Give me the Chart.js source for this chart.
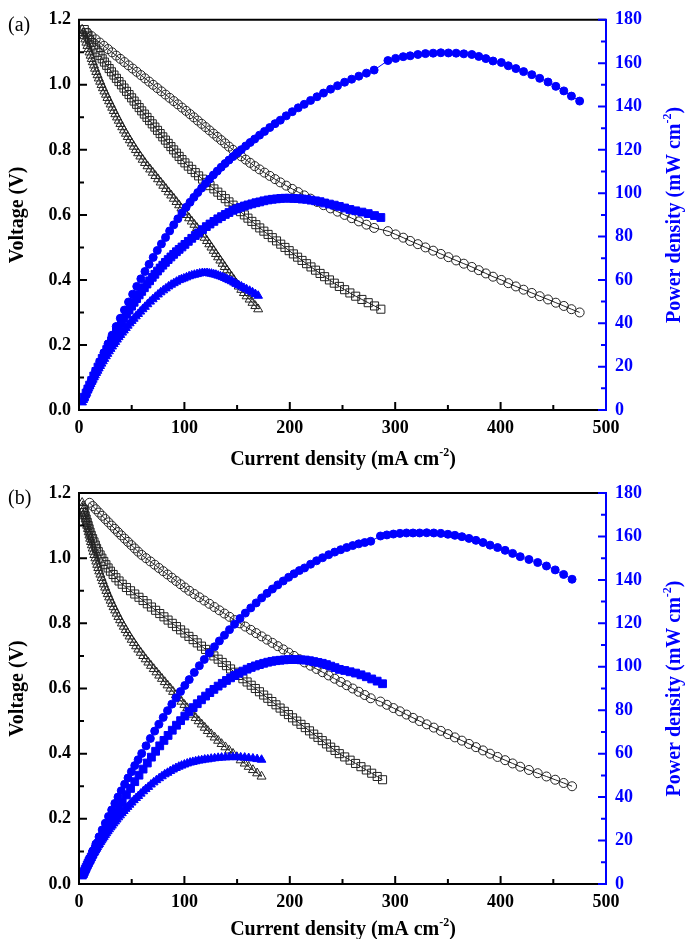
<!DOCTYPE html>
<html>
<head>
<meta charset="utf-8">
<script src="https://cdn.jsdelivr.net/npm/chart.js@4.4.1/dist/chart.umd.min.js"></script>
<style>
  body { margin: 0; background: #fff; }
  #wrap { position: relative; width: 692px; height: 939px; }
  canvas { position: absolute; left: 0; }
</style>
</head>
<body>
<div id="wrap">
  <canvas id="chartA" width="692" height="470" style="top:0"></canvas>
  <canvas id="chartB" width="692" height="469" style="top:470px"></canvas>
</div>
<script>
// points were recorded at ~10 mV voltage steps
// ---- panel (a) ----
const aCircV = [1.16,1.15,1.14,1.13,1.12,1.11,1.10,1.09,1.08,1.07,1.06,1.05,1.04,1.03,1.02,1.01,1.00,0.99,0.98,0.97,0.96,0.95,0.94,0.93,0.92,0.91,0.90,0.89,0.88,0.87,0.86,0.85,0.84,0.83,0.82,0.81,0.80,0.79,0.78,0.77,0.76,0.75,0.74,0.73,0.72,0.71,0.70,0.69,0.68,0.67,0.66,0.65,0.64,0.63,0.62,0.61,0.60,0.59,0.58,0.57,0.56,0.55,0.54,0.53,0.52,0.51,0.50,0.49,0.48,0.47,0.46,0.45,0.44,0.43,0.42,0.41,0.40,0.39,0.38,0.37,0.36,0.35,0.34,0.33,0.32,0.31,0.30];
const aCircI = [8,11.9,15.8,19.7,23.6,27.5,31.4,35.3,39.2,43.1,47,50.9,54.8,58.7,62.6,66.5,70.4,74.3,78.2,82.1,86,89.9,93.8,97.7,101.6,105.3,109,112.7,116.4,120.1,123.8,127.5,131.2,134.9,138.6,142.3,146.1,150,154,158.2,162.4,166.7,171.3,176,181,186,191,196.6,202.3,208,213.7,219.7,225.8,232,238.7,245.3,252,258.7,265.5,272.7,280,293.1,300.4,307.6,314.2,321.5,328.7,336,343.3,350.5,357.8,365.1,372.7,379.3,386,392.8,400.7,407.3,414.5,421.8,429.6,437.1,445,452.4,460,467.2,475];
const aCircP = [9.3,13.7,18.0,22.3,26.4,30.5,34.5,38.5,42.3,46.1,49.8,53.4,57.0,60.5,63.9,67.2,70.4,73.6,76.6,79.6,82.6,85.4,88.2,90.9,93.5,95.8,98.1,100.3,102.4,104.5,106.5,108.4,110.2,112.0,113.7,115.3,116.9,118.5,120.1,121.8,123.4,125.0,126.8,128.5,130.3,132.1,133.7,135.7,137.6,139.4,141.0,142.8,144.5,146.2,148.0,149.6,151.2,152.6,154.0,155.4,156.8,161.2,162.2,163.0,163.4,164.0,164.4,164.6,164.8,164.7,164.6,164.3,164.0,163.1,162.1,161.0,160.3,158.8,157.5,156.1,154.7,153.0,151.3,149.3,147.2,144.8,142.5];

const aSqV = [1.17,1.16,1.15,1.14,1.13,1.12,1.11,1.10,1.09,1.08,1.07,1.06,1.05,1.04,1.03,1.02,1.01,1.00,0.99,0.98,0.97,0.96,0.95,0.94,0.93,0.92,0.91,0.90,0.89,0.88,0.87,0.86,0.85,0.84,0.83,0.82,0.81,0.80,0.79,0.78,0.77,0.76,0.75,0.74,0.73,0.72,0.71,0.70,0.69,0.68,0.67,0.66,0.65,0.64,0.63,0.62,0.61,0.60,0.59,0.58,0.57,0.56,0.55,0.54,0.53,0.52,0.51,0.50,0.49,0.48,0.47,0.46,0.45,0.44,0.43,0.42,0.41,0.40,0.39,0.38,0.37,0.36,0.35,0.34,0.33,0.32,0.31];
const aSqI = [5,6.7,8.4,10.1,12.0,14.0,16.0,18.0,20.0,22.0,24.1,26.3,28.6,30.8,33.2,35.5,37.9,40.3,42.7,45.1,47.5,49.9,52.3,54.7,57.1,59.5,62,64.5,67,69.5,72,74.5,77,79.5,82,84.6,87.2,89.8,92.4,95,97.7,100.5,103.7,107,110.3,113.5,117.2,120.8,124.3,128,131.7,135.2,138.8,142.3,146.2,149.7,153.2,156.9,160.3,164,167.8,171.5,175.4,179.4,183.4,187.4,191.4,195.4,199.4,203.4,207.4,211.6,215.9,220.1,224.4,228.7,233,237.6,242.2,247,252,257,262.5,268.4,274.4,280.4,286.4];
const aSqP = [5.9,7.8,9.7,11.5,13.6,15.7,17.8,19.8,21.8,23.8,25.8,27.9,30.0,32.0,34.2,36.2,38.3,40.3,42.3,44.2,46.1,47.9,49.7,51.4,53.1,54.7,56.4,58.1,59.6,61.2,62.6,64.1,65.5,66.8,68.1,69.4,70.6,71.8,73.0,74.1,75.2,76.4,77.8,79.2,80.5,81.7,83.2,84.6,85.8,87.0,88.2,89.2,90.2,91.1,92.1,92.8,93.5,94.1,94.6,95.1,95.6,96.0,96.5,96.9,97.2,97.4,97.6,97.7,97.7,97.6,97.5,97.3,97.2,96.8,96.5,96.1,95.5,95.0,94.5,93.9,93.2,92.5,91.9,91.3,90.6,89.7,88.8];

const aTriV = [1.17,1.16,1.15,1.14,1.13,1.12,1.11,1.10,1.09,1.08,1.07,1.06,1.05,1.04,1.03,1.02,1.01,1.00,0.99,0.98,0.97,0.96,0.95,0.94,0.93,0.92,0.91,0.90,0.89,0.88,0.87,0.86,0.85,0.84,0.83,0.82,0.81,0.80,0.79,0.78,0.77,0.76,0.75,0.74,0.73,0.72,0.71,0.70,0.69,0.68,0.67,0.66,0.65,0.64,0.63,0.62,0.61,0.60,0.59,0.58,0.57,0.56,0.55,0.54,0.53,0.52,0.51,0.50,0.49,0.48,0.47,0.46,0.45,0.44,0.43,0.42,0.41,0.40,0.39,0.38,0.37,0.36,0.35,0.34,0.33,0.32,0.31];
const aTriI = [3,4,5,6,7,8,9,10,11,12.1,13.1,14.2,15.2,16.4,17.6,18.8,20.1,21.4,22.7,24.1,25.6,27,28.5,30,31.5,33,34.5,36.1,37.7,39.3,41,42.7,44.5,46.3,48.2,50.1,52,54,56.1,58.2,60.4,62.6,65,67.5,70,72.5,75,77.5,80,82.5,85,87.5,90,92.5,95,97.2,99.5,102,104.5,107,109.5,112,114.5,117,119.2,121.5,123.6,125.7,127.8,129.9,132,134.1,136.2,138.3,140.4,142.5,144.8,147,149.2,151.5,154,156.5,159,161.9,164.6,167.3,170];
const aTriP = [3.5,4.6,5.8,6.8,7.9,9.0,10.0,11.0,12.0,13.1,14.0,15.1,16.0,17.1,18.1,19.2,20.3,21.4,22.5,23.6,24.8,25.9,27.1,28.2,29.3,30.4,31.4,32.5,33.6,34.6,35.7,36.7,37.8,38.9,40.0,41.1,42.1,43.2,44.3,45.4,46.5,47.6,48.8,50.0,51.1,52.2,53.3,54.3,55.2,56.1,57.0,57.8,58.5,59.2,59.9,60.3,60.7,61.2,61.7,62.1,62.4,62.7,63.0,63.2,63.2,63.2,63.0,62.9,62.6,62.4,62.0,61.7,61.3,60.9,60.4,59.9,59.4,58.8,58.2,57.6,57.0,56.3,55.7,55.0,54.3,53.5,52.7];

// ---- panel (b) ----
const bCircV = [1.17,1.16,1.15,1.14,1.13,1.12,1.11,1.10,1.09,1.08,1.07,1.06,1.05,1.04,1.03,1.02,1.01,1.00,0.99,0.98,0.97,0.96,0.95,0.94,0.93,0.92,0.91,0.90,0.89,0.88,0.87,0.86,0.85,0.84,0.83,0.82,0.81,0.80,0.79,0.78,0.77,0.76,0.75,0.74,0.73,0.72,0.71,0.70,0.69,0.68,0.67,0.66,0.65,0.64,0.63,0.62,0.61,0.60,0.59,0.58,0.57,0.56,0.55,0.54,0.53,0.52,0.51,0.50,0.49,0.48,0.47,0.46,0.45,0.44,0.43,0.42,0.41,0.40,0.39,0.38,0.37,0.36,0.35,0.34,0.33,0.32,0.31,0.30];
const bCircI = [10,13,16,19,22,25,28,31,34,37,40.1,43.3,46.5,49.7,52.9,56.1,59.5,63.6,67.7,71.8,75.8,79.9,84,88.1,92.2,96.3,100.4,104.6,109.4,114.2,118.9,123.7,128.5,133.2,138,142.8,147.6,152.7,157.8,163,168.1,173.3,178.4,183.5,188.6,193.8,198.9,204,209.1,214,219.7,225.4,231.1,236.9,242.6,248.3,254,259.7,265.4,271.1,276.8,286,292.1,298.3,304.5,310.7,316.9,323.2,329.9,336.6,343.3,350,356.6,363.3,370,376.6,383.3,390,397.1,404.3,411.4,418.6,426.9,435.2,443.5,451.8,459.8,467.8];
const bCircP = [11.7,15.1,18.4,21.7,24.9,28.0,31.1,34.1,37.1,40.0,42.9,45.9,48.8,51.7,54.5,57.2,60.1,63.6,67.0,70.4,73.5,76.7,79.8,82.8,85.7,88.6,91.4,94.1,97.4,100.5,103.4,106.4,109.2,111.9,114.5,117.1,119.6,122.2,124.7,127.1,129.4,131.7,133.8,135.8,137.7,139.5,141.2,142.8,144.3,145.5,147.2,148.8,150.2,151.6,152.8,153.9,154.9,155.8,156.6,157.2,157.8,160.2,160.7,161.1,161.4,161.6,161.6,161.6,161.7,161.6,161.4,161.0,160.5,159.9,159.1,158.2,157.2,156.0,154.9,153.6,152.2,150.7,149.4,148.0,146.4,144.6,142.5,140.3];

const bSqV = [1.15,1.14,1.13,1.12,1.11,1.10,1.09,1.08,1.07,1.06,1.05,1.04,1.03,1.02,1.01,1.00,0.99,0.98,0.97,0.96,0.95,0.94,0.93,0.92,0.91,0.90,0.89,0.88,0.87,0.86,0.85,0.84,0.83,0.82,0.81,0.80,0.79,0.78,0.77,0.76,0.75,0.74,0.73,0.72,0.71,0.70,0.69,0.68,0.67,0.66,0.65,0.64,0.63,0.62,0.61,0.60,0.59,0.58,0.57,0.56,0.55,0.54,0.53,0.52,0.51,0.50,0.49,0.48,0.47,0.46,0.45,0.44,0.43,0.42,0.41,0.40,0.39,0.38,0.37,0.36,0.35,0.34,0.33,0.32];
const bSqI = [4.2,5,5.9,6.8,7.8,8.7,9.6,10.5,11.6,12.9,14.2,15.5,16.7,18.3,20,21.7,23.5,25.5,27.6,29.8,32.4,35,38,41,45,48.9,52.9,56.9,60.8,64.8,68.7,72.7,76.6,80.6,84.5,88.5,92.5,96.4,100.4,104.3,108.3,112.2,116.2,120.1,124.1,128,132,135.9,139.9,143.8,147.7,151.6,155.5,159.5,163.4,167.3,171.2,175.2,179.1,183,186.9,190.8,194.8,198.7,202.6,206.6,210.6,214.7,218.7,222.7,226.7,230.8,234.8,238.8,242.9,247,252.1,257.2,262.4,267.5,272.6,277.7,282.9,288];
const bSqP = [4.8,5.7,6.7,7.6,8.7,9.6,10.5,11.3,12.4,13.7,14.9,16.1,17.2,18.7,20.2,21.7,23.3,25.0,26.8,28.6,30.8,32.9,35.3,37.7,41.0,44.0,47.1,50.1,52.9,55.7,58.4,61.1,63.6,66.1,68.4,70.8,73.1,75.2,77.3,79.3,81.2,83.0,84.8,86.5,88.1,89.6,91.1,92.4,93.7,94.9,96.0,97.0,98.0,98.9,99.7,100.4,101.0,101.6,102.1,102.5,102.8,103.0,103.2,103.3,103.3,103.3,103.2,103.1,102.8,102.4,102.0,101.6,101.0,100.3,99.6,98.8,98.3,97.7,97.1,96.3,95.4,94.4,93.4,92.2];

const bTriV = [1.17,1.16,1.15,1.14,1.13,1.12,1.11,1.10,1.09,1.08,1.07,1.06,1.05,1.04,1.03,1.02,1.01,1.00,0.99,0.98,0.97,0.96,0.95,0.94,0.93,0.92,0.91,0.90,0.89,0.88,0.87,0.86,0.85,0.84,0.83,0.82,0.81,0.80,0.79,0.78,0.77,0.76,0.75,0.74,0.73,0.72,0.71,0.70,0.69,0.68,0.67,0.66,0.65,0.64,0.63,0.62,0.61,0.60,0.59,0.58,0.57,0.56,0.55,0.54,0.53,0.52,0.51,0.50,0.49,0.48,0.47,0.46,0.45,0.44,0.43,0.42,0.41,0.40,0.39,0.38,0.37,0.36,0.35,0.34,0.33];
const bTriI = [3,3.7,4.3,5,5.7,6.3,7,7.7,8.5,9.2,9.9,10.6,11.4,12.2,13,13.8,14.6,15.5,16.4,17.3,18.3,19.2,20.3,21.4,22.5,23.6,24.8,26,27.3,28.6,30,31.3,32.8,34.3,35.8,37.4,39,40.7,42.5,44.3,46.1,48,50,52.1,54.2,56.3,58.6,61,63.3,65.8,68.3,70.9,73.5,76.1,78.7,81.4,84,86.7,89.3,92,94.7,97.3,100,102.7,105.4,108,110.7,113.5,116.4,119.3,122.2,125.4,128.7,132,135.3,138.9,142.5,146.1,149.7,153.4,157.2,161,165,169,173.2];
const bTriP = [3.5,4.3,4.9,5.7,6.4,7.1,7.8,8.5,9.3,9.9,10.6,11.2,12.0,12.7,13.4,14.1,14.7,15.5,16.2,17.0,17.8,18.4,19.3,20.1,20.9,21.7,22.6,23.4,24.3,25.2,26.1,26.9,27.9,28.8,29.7,30.7,31.6,32.6,33.6,34.6,35.5,36.5,37.5,38.6,39.6,40.5,41.6,42.7,43.7,44.7,45.8,46.8,47.8,48.7,49.6,50.5,51.2,52.0,52.7,53.4,54.0,54.5,55.0,55.5,55.9,56.2,56.5,56.8,57.0,57.3,57.4,57.7,57.9,58.1,58.2,58.3,58.4,58.4,58.4,58.3,58.2,58.0,57.8,57.5,57.2];

const xTicks = [0, 100, 200, 300, 400, 500];
const vTicks = [0, 0.2, 0.4, 0.6, 0.8, 1.0, 1.2];
const pTicks = [0, 20, 40, 60, 80, 100, 120, 140, 160, 180];

const BLUE = '#0000ff';
const DARK = '#222';
const serif = '"Liberation Serif", "Times New Roman", serif';
const tickFont = { family: serif, size: 18, weight: 'bold' };

function pts(xs, ys) { return xs.map((x, i) => ({ x: x, y: ys[i] })); }

function drawTitle(ctx, main, sup, tail, cx, by) {
  const big = 'bold 20px ' + serif, small = 'bold 12px ' + serif;
  ctx.font = big;
  const w1 = ctx.measureText(main).width, w3 = ctx.measureText(tail).width;
  ctx.font = small;
  const w2 = ctx.measureText(sup).width;
  let x0 = cx - (w1 + w2 + w3) / 2;
  ctx.textAlign = 'left';
  ctx.textBaseline = 'alphabetic';
  ctx.font = big; ctx.fillText(main, x0, by);
  ctx.font = small; ctx.fillText(sup, x0 + w1, by - 9);
  ctx.font = big; ctx.fillText(tail, x0 + w1 + w2, by);
}

const framePlugin = {
  id: 'frame',
  afterDraw(chart, args, opts) {
    const { ctx, chartArea: a, scales } = chart;
    const sx = scales.x, sy = scales.y, sp = scales.y1;
    ctx.save();
    // black frame + inward ticks
    ctx.strokeStyle = '#000';
    ctx.lineWidth = 2;
    ctx.beginPath();
    ctx.moveTo(a.right, a.top); ctx.lineTo(a.left, a.top);
    ctx.lineTo(a.left, a.bottom); ctx.lineTo(a.right, a.bottom);
    for (let v = 0; v <= 500; v += 50) {
      const px = sx.getPixelForValue(v);
      ctx.moveTo(px, a.bottom); ctx.lineTo(px, a.bottom - (v % 100 === 0 ? 8 : 5));
    }
    for (let k = 0; k <= 12; k++) {
      const py = sy.getPixelForValue(k / 10);
      ctx.moveTo(a.left, py); ctx.lineTo(a.left + (k % 2 === 0 ? 8 : 5), py);
    }
    ctx.stroke();
    // blue right axis
    ctx.strokeStyle = BLUE;
    ctx.beginPath();
    ctx.moveTo(a.right, a.top - 1); ctx.lineTo(a.right, a.bottom + 1);
    for (let v = 0; v <= 180; v += 10) {
      const py = sp.getPixelForValue(v);
      ctx.moveTo(a.right, py); ctx.lineTo(a.right - (v % 20 === 0 ? 8 : 5), py);
    }
    ctx.stroke();

    // panel label
    ctx.fillStyle = '#000';
    ctx.font = '20px ' + serif;
    ctx.textAlign = 'left';
    ctx.textBaseline = 'alphabetic';
    ctx.fillText(opts.label, 8, a.top + 11);

    // x title
    drawTitle(ctx, 'Current density (mA cm', '-2', ')', 343, a.bottom + opts.xTitleOff);

    // left title
    ctx.save();
    ctx.translate(23, (a.top + a.bottom) / 2);
    ctx.rotate(-Math.PI / 2);
    ctx.font = 'bold 20px ' + serif;
    ctx.textAlign = 'center';
    ctx.fillText('Voltage (V)', 0, 0);
    ctx.restore();

    // right title
    ctx.save();
    ctx.translate(680, (a.top + a.bottom) / 2);
    ctx.rotate(-Math.PI / 2);
    ctx.fillStyle = BLUE;
    drawTitle(ctx, 'Power density (mW cm', '-2', ')', 0, 0);
    ctx.restore();
    ctx.restore();
  }
};

function blueSet(data, style, r) {
  return {
    data: data, yAxisID: 'y1', showLine: true,
    borderColor: BLUE, borderWidth: 1,
    pointStyle: style, pointRadius: r,
    pointBackgroundColor: BLUE, pointBorderColor: BLUE, pointBorderWidth: 1,
    order: 1
  };
}
function blackSet(data, style, r) {
  return {
    data: data, yAxisID: 'y', showLine: true,
    borderColor: DARK, borderWidth: 1,
    pointStyle: style, pointRadius: r,
    pointBackgroundColor: 'rgba(0,0,0,0)', pointBorderColor: DARK, pointBorderWidth: 1,
    order: 2
  };
}

function makePanel(id, d, label, topPad, xh, xTitleOff) {
  return new Chart(document.getElementById(id), {
    type: 'scatter',
    data: {
      datasets: [
        blueSet(pts(d.cI, d.cP), 'circle', 4),
        blueSet(pts(d.sI, d.sP), 'rect', 5.5),
        blueSet(pts(d.tI, d.tP), 'triangle', 5),
        blackSet(pts(d.cI, d.cV), 'circle', 4.5),
        blackSet(pts(d.sI, d.sV), 'rect', 5.7),
        blackSet(pts(d.tI, d.tV), 'triangle', 5.2)
      ]
    },
    options: {
      responsive: false,
      animation: false,
      events: [],
      layout: { padding: { top: topPad, left: 0, right: 0, bottom: 0 } },
      plugins: { legend: { display: false }, tooltip: { enabled: false }, frame: { label: label, xTitleOff: xTitleOff } },
      scales: {
        x: {
          type: 'linear', min: 0, max: 500,
          afterFit: s => { s.height = xh; },
          afterBuildTicks: s => { s.ticks = xTicks.map(v => ({ value: v })); },
          grid: { display: false, drawTicks: false }, border: { display: false },
          ticks: { font: tickFont, color: '#000', padding: 8, maxRotation: 0 }
        },
        y: {
          position: 'left', min: 0, max: 1.2,
          afterFit: s => { s.width = 79; },
          afterBuildTicks: s => { s.ticks = vTicks.map(v => ({ value: v })); },
          grid: { display: false, drawTicks: false }, border: { display: false },
          ticks: { font: tickFont, color: '#000', padding: 8, callback: v => v.toFixed(1) }
        },
        y1: {
          position: 'right', min: 0, max: 180,
          afterFit: s => { s.width = 86; },
          afterBuildTicks: s => { s.ticks = pTicks.map(v => ({ value: v })); },
          grid: { display: false, drawTicks: false }, border: { display: false },
          ticks: { font: tickFont, color: BLUE, padding: 9 }
        }
      }
    },
    plugins: [framePlugin]
  });
}

makePanel('chartA', { cI: aCircI, cV: aCircV, cP: aCircP, sI: aSqI, sV: aSqV, sP: aSqP, tI: aTriI, tV: aTriV, tP: aTriP }, '(a)', 17, 60, 55);
makePanel('chartB', { cI: bCircI, cV: bCircV, cP: bCircP, sI: bSqI, sV: bSqV, sP: bSqP, tI: bTriI, tV: bTriV, tP: bTriP }, '(b)', 23, 55, 51);
</script>
</body>
</html>
